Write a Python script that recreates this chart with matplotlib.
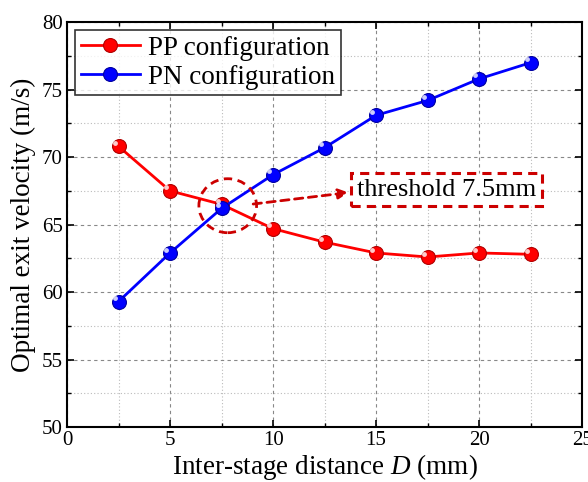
import numpy as np
import matplotlib.pyplot as plt
from matplotlib.patches import Ellipse

plt.rcParams['font.family'] = ['Liberation Serif', 'DejaVu Serif']
plt.rcParams['mathtext.fontset'] = 'custom'
plt.rcParams['mathtext.it'] = 'Liberation Serif:italic'
plt.rcParams['mathtext.rm'] = 'Liberation Serif'

# data
distance = [2.5, 5, 7.5, 10, 12.5, 15, 17.5, 20, 22.5]
pp_velocity = [70.8, 67.5, 66.5, 64.7, 63.7, 62.9, 62.6, 62.9, 62.8]
pn_velocity = [59.3, 62.9, 66.2, 68.7, 70.7, 73.1, 74.2, 75.8, 77.0]

fig = plt.figure(figsize=(5.88, 4.82), dpi=100)
ax = fig.add_axes([0.114, 0.114, 0.876, 0.84])

def sphere_line(x, y, color, dark, label):
    ax.plot(x, y, '-', color=color, lw=2, marker='o', ms=10,
            mfc=color, mec=dark, mew=0.8, label=label, zorder=3)
    # small highlight to fake the shaded ball
    ax.plot(np.array(x) - 0.18, np.array(y) + 0.25, 'o', ms=3.5,
            color='white', alpha=0.8, mew=0, zorder=4)

sphere_line(distance, pp_velocity, '#ff0000', '#b00000', 'PP configuration')
sphere_line(distance, pn_velocity, '#0000ff', '#0000a0', 'PN configuration')

ax.set_xlim(0, 25)
ax.set_ylim(50, 80)
ax.set_xticks(np.arange(0, 26, 5))
ax.set_yticks(np.arange(50, 81, 5))
ax.set_xticks(np.arange(0, 25, 2.5), minor=True)
ax.set_yticks(np.arange(50, 80, 2.5), minor=True)
ax.tick_params(which='both', direction='in', top=True, right=True, labelsize=15)
ax.tick_params(which='major', length=5, width=1.2, pad=3)
ax.tick_params(which='minor', length=3, width=1)
ax.grid(which='major', ls=(0, (3, 3)), color='#888888', lw=0.8)
ax.grid(which='minor', ls=(0, (1, 2)), color='#bbbbbb', lw=0.8)
ax.set_axisbelow(True)
for s in ax.spines.values():
    s.set_linewidth(1.5)

ax.set_xlabel('Inter-stage distance $D$ (mm)', fontsize=19.5, labelpad=1)
ax.set_ylabel('Optimal exit velocity (m/s)', fontsize=19.5, labelpad=4)

leg = ax.legend(loc='upper left', fontsize=19.5, frameon=True, fancybox=False,
                edgecolor='black', borderpad=0.2, handlelength=2.2,
                handletextpad=0.3, labelspacing=0.15, borderaxespad=0.3)
leg.get_frame().set_linewidth(1.2)

# threshold annotation
ax.add_patch(Ellipse((7.8, 66.4), 2.8, 4.0, fill=False, ec='#cc0000',
                     ls=(0, (3, 2)), lw=2, zorder=5))
ax.annotate('', xy=(13.8, 67.4), xytext=(8.9, 66.5),
            arrowprops=dict(arrowstyle='-|>', color='#cc0000', lw=2,
                            ls=(0, (3, 2)), mutation_scale=15))
ax.text(18.4, 67.6, 'threshold 7.5mm', fontsize=19, ha='center', va='center',
        zorder=6, bbox=dict(boxstyle='square,pad=0.22', fc='white',
                            ec='#cc0000', ls=(0, (3, 2)), lw=2.2))

fig.savefig('out.png', dpi=100)
